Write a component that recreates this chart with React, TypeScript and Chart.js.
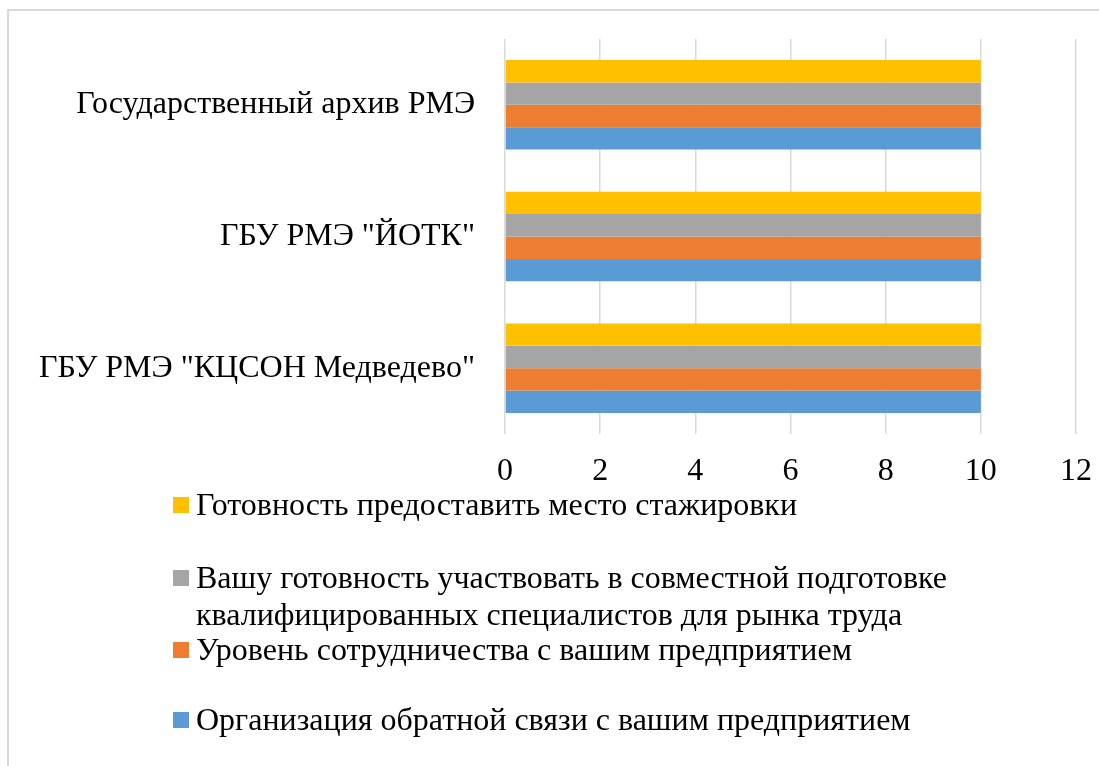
import React, { useEffect, useRef } from "react";
import { Chart, registerables } from "chart.js";

Chart.register(...registerables);

const categories = [
  "Государственный архив РМЭ",
  'ГБУ РМЭ "ЙОТК"',
  'ГБУ РМЭ "КЦСОН Медведево"',
];

const seriesNames = [
  "Готовность предоставить место стажировки",
  "Вашу готовность участвовать в совместной подготовке квалифицированных специалистов для рынка труда",
  "Уровень сотрудничества с вашим предприятием",
  "Организация обратной связи с вашим предприятием",
];

const internshipValues = [10, 10, 10];
const jointTrainingValues = [10, 10, 10];
const cooperationValues = [10, 10, 10];
const feedbackValues = [10, 10, 10];

const seriesColors = ["#FFC000", "#A5A5A5", "#ED7D31", "#5B9BD5"];

const xMin = 0;
const xMax = 12;
const xStep = 2;

const FONT = "'Liberation Serif', 'Times New Roman', serif";

const legendPlugin = {
  id: "customLegend",
  afterDraw(chart: any) {
    const ctx = chart.ctx;
    const baselines = [515, 588, 660, 730];
    const lineHeight = 37;
    const boxX = 173;
    const boxSize = 16;
    const textX = 196;
    const maxWidth = 800;
    ctx.save();
    ctx.font = `32px ${FONT}`;
    ctx.textBaseline = "alphabetic";
    ctx.textAlign = "left";
    chart.data.datasets.forEach((ds: any, i: number) => {
      const words = String(ds.label).split(" ");
      const lines: string[] = [];
      let cur = "";
      words.forEach((w) => {
        const test = cur ? cur + " " + w : w;
        if (ctx.measureText(test).width > maxWidth && cur) {
          lines.push(cur);
          cur = w;
        } else cur = test;
      });
      if (cur) lines.push(cur);
      const by = baselines[i];
      ctx.fillStyle = ds.backgroundColor;
      ctx.fillRect(boxX, by - 2 - boxSize, boxSize, boxSize);
      ctx.fillStyle = "#000000";
      lines.forEach((ln, k) => ctx.fillText(ln, textX, by + k * lineHeight));
    });
    ctx.restore();
  },
};

export default function App() {
  const ref = useRef<HTMLCanvasElement | null>(null);
  useEffect(() => {
    if (!ref.current) return;
    const values = [internshipValues, jointTrainingValues, cooperationValues, feedbackValues];
    const chart = new Chart(ref.current, {
      type: "bar",
      data: {
        labels: categories,
        datasets: seriesNames.map((name, i) => ({
          label: name,
          data: values[i],
          backgroundColor: seriesColors[i],
          borderWidth: 0,
          categoryPercentage: 0.68,
          barPercentage: 1.0,
        })),
      },
      options: {
        indexAxis: "y",
        animation: false,
        responsive: false,
        devicePixelRatio: 1,
        layout: { padding: { left: 0, top: 39, right: 23, bottom: 272 } },
        plugins: {
          legend: { display: false },
          tooltip: { enabled: false },
        },
        scales: {
          x: {
            min: xMin,
            max: xMax,
            ticks: {
              stepSize: xStep,
              color: "#000000",
              font: { family: FONT, size: 32 },
              padding: 18,
            },
            grid: { color: "#d9d9d9", lineWidth: 1.5, drawTicks: false },
            border: { display: false },
            afterFit(scale: any) {
              scale.height = 60;
              scale.paddingLeft = 0;
              scale.paddingRight = 0;
            },
          },
          y: {
            ticks: {
              color: "#000000",
              font: { family: FONT, size: 32 },
              padding: 22,
            },
            grid: { display: false },
            border: { display: false },
            afterFit(scale: any) {
              scale.width = 505;
              scale.paddingTop = 0;
              scale.paddingBottom = 0;
            },
          },
        },
      },
      plugins: [legendPlugin],
    } as any);
    return () => chart.destroy();
  }, []);

  return (
    <div style={{ position: "fixed", left: 0, top: 0, width: 1099, height: 766, overflow: "hidden", background: "#fff" }}>
      <div
        style={{
          position: "absolute",
          left: 7,
          top: 9,
          width: 1200,
          height: 900,
          border: "2px solid #d9d9d9",
        }}
      />
      <canvas ref={ref} width={1099} height={766} style={{ position: "absolute", left: 0, top: 0 }} />
    </div>
  );
}
